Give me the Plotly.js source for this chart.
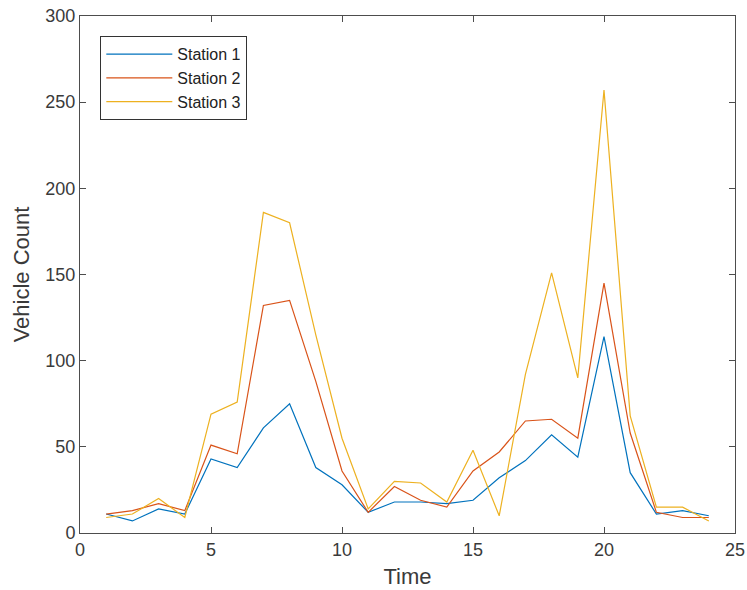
<!DOCTYPE html>
<html><head><meta charset="utf-8">
<script src="https://cdn.plot.ly/plotly-3.0.1.min.js"></script>
<style>html,body{margin:0;padding:0;background:#fff}#chart{width:747px;height:590px}</style>
</head><body><div id="chart"></div>
<script>
const time = [1,2,3,4,5,6,7,8,9,10,11,12,13,14,15,16,17,18,19,20,21,22,23,24];
const station1 = [11,7,14,11,43,38,61,75,38,28,12,18,18,17,19,32,42,57,44,114,35,11,13,10];
const station2 = [11,13,17,13,51,46,132,135,88,36,12,27,19,15,36,47,65,66,55,145,58,12,9,9];
const station3 = [9,11,20,9,69,76,186,180,115,55,14,30,29,18,48,10,92,151,90,257,68,15,15,7];
const names = ['Station 1','Station 2','Station 3'];
const colors = ['#0072BD','#D95319','#EDB120'];
const series = [station1, station2, station3];

const FONT = 'Liberation Sans, Arial, sans-serif';
const traces = series.map((s,i)=>({x:time,y:s,type:'scatter',mode:'lines',name:names[i],
  line:{color:colors[i],width:1.2}}));

const axisCommon = {showgrid:false,zeroline:false,showline:true,mirror:'ticks',linecolor:'#4d4d4d',linewidth:1,
  ticks:'inside',ticklen:6,tickcolor:'#4d4d4d',tickfont:{family:FONT,size:18,color:'#3a3a3a'}};

const layout = {
  width:747,height:590,paper_bgcolor:'#fff',plot_bgcolor:'#fff',
  margin:{l:80,r:12,t:16,b:57},
  showlegend:true,
  legend:{x:0.031,y:0.961,xanchor:'left',yanchor:'top',bgcolor:'#fff',bordercolor:'#333',borderwidth:1,
    font:{family:FONT,size:16,color:'#222'},itemwidth:66,tracegroupgap:0},
  xaxis:Object.assign({},axisCommon,{range:[0,25],tickvals:[0,5,10,15,20,25],
    title:{text:'Time',font:{family:FONT,size:22,color:'#3a3a3a'},standoff:10}}),
  yaxis:Object.assign({},axisCommon,{range:[0,300],tickvals:[0,50,100,150,200,250,300],
    title:{text:'Vehicle Count',font:{family:FONT,size:22,color:'#3a3a3a'},standoff:9}})
};
Plotly.newPlot('chart',traces,layout,{displayModeBar:false,staticPlot:true});
</script></body></html>
